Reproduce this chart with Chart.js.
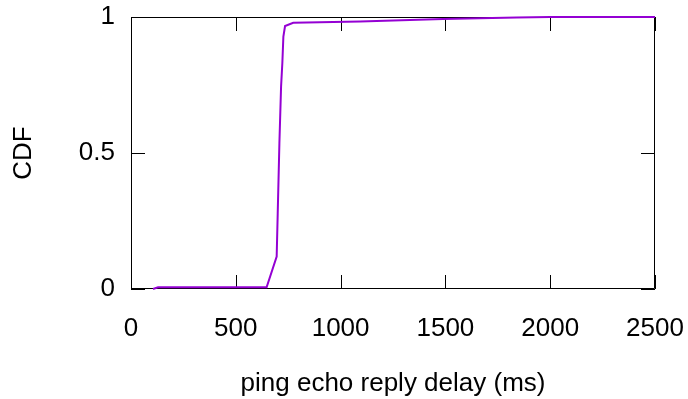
<!DOCTYPE html>
<html>
<head>
<meta charset="utf-8">
<script src="https://cdn.jsdelivr.net/npm/chart.js@4/dist/chart.umd.min.js"></script>
<style>
  html, body { margin: 0; padding: 0; background: #fff; }
  canvas { display: block; }
</style>
</head>
<body>
<canvas id="cdfChart" width="688" height="399"></canvas>
<script>
// valores
const delayMs = [105, 129, 647, 695, 700, 708, 716, 722, 727, 735, 774, 1093, 1489, 1840, 2000, 2500];
const cdf = [0, 0.006, 0.006, 0.119, 0.278, 0.536, 0.744, 0.830, 0.928, 0.967, 0.979, 0.983, 0.993, 0.998, 1.0, 1.0];
const xTicks = [0, 500, 1000, 1500, 2000, 2500];
const yTicks = [0, 0.5, 1];

const fuente = { family: '"Liberation Sans", Arial, sans-serif', size: 26 };

// marco y marcas hacia adentro (estilo gnuplot)
const marcoPlugin = {
    id: 'marco',
    beforeDatasetsDraw(chart) {
        const { ctx, chartArea: a, scales } = chart;
        const largo = 14;
        ctx.save();
        ctx.strokeStyle = '#000';
        ctx.lineWidth = 1;
        ctx.beginPath();
        ctx.rect(a.left + 0.5, a.top + 0.5, a.right - a.left - 1, a.bottom - a.top - 1);
        xTicks.forEach(v => {
            const x = Math.round(scales.x.getPixelForValue(v)) + 0.5;
            ctx.moveTo(x, a.bottom); ctx.lineTo(x, a.bottom - largo);
            ctx.moveTo(x, a.top); ctx.lineTo(x, a.top + largo);
        });
        yTicks.forEach(v => {
            const y = Math.round(scales.y.getPixelForValue(v)) + 0.5;
            ctx.moveTo(a.left, y); ctx.lineTo(a.left + largo, y);
            ctx.moveTo(a.right, y); ctx.lineTo(a.right - largo, y);
        });
        ctx.stroke();
        ctx.restore();
    }
};

new Chart(document.getElementById('cdfChart'), {
    type: 'line',
    data: {
        labels: delayMs,
        datasets: [{
            data: delayMs.map((d, i) => ({ x: d, y: cdf[i] })),
            borderColor: '#9400d3',
            borderWidth: 2,
            pointRadius: 0,
            fill: false,
            tension: 0,
            clip: false
        }]
    },
    options: {
        responsive: false,
        animation: false,
        devicePixelRatio: 1,
        layout: { padding: { left: 0, top: 17, right: 33, bottom: 0 } },
        plugins: {
            legend: { display: false },
            tooltip: { enabled: false }
        },
        scales: {
            x: {
                type: 'linear',
                min: 0,
                max: 2500,
                afterBuildTicks: s => { s.ticks = xTicks.map(v => ({ value: v })); },
                afterFit: s => {
                    s.height = 110;
                    s.paddingLeft = 0;
                    s.paddingRight = 0;
                },
                grid: { display: false, drawTicks: false },
                border: { display: false },
                ticks: { color: '#000', font: fuente, padding: 24, maxRotation: 0, callback: v => String(v) },
                title: {
                    display: true,
                    text: 'ping echo reply delay (ms)',
                    color: '#000',
                    font: fuente,
                    padding: { top: 0, bottom: 0 }
                }
            },
            y: {
                type: 'linear',
                min: 0,
                max: 1,
                afterBuildTicks: s => { s.ticks = yTicks.map(v => ({ value: v })); },
                afterFit: s => {
                    s.width = 131;
                    s.paddingTop = 0;
                    s.paddingBottom = 0;
                },
                grid: { display: false, drawTicks: false },
                border: { display: false },
                ticks: { color: '#000', font: fuente, padding: 16, callback: v => String(v) },
                title: {
                    display: true,
                    text: 'CDF',
                    color: '#000',
                    font: fuente,
                    padding: { top: 8, bottom: 0 }
                }
            }
        }
    },
    plugins: [marcoPlugin]
});
</script>
</body>
</html>
